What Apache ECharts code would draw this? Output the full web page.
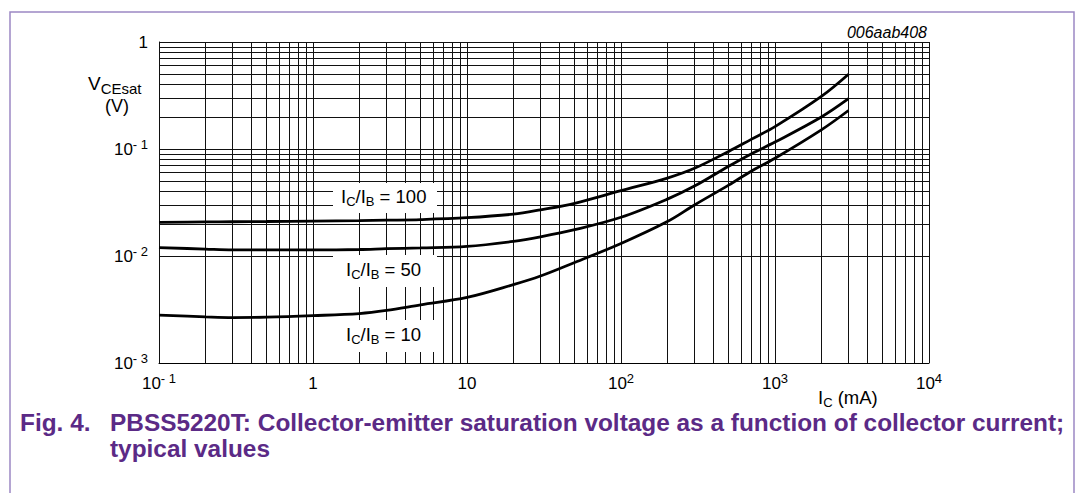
<!DOCTYPE html>
<html>
<head>
<meta charset="utf-8">
<title>PBSS5220T VCEsat vs IC</title>
<script src="https://cdn.jsdelivr.net/npm/echarts@6/dist/echarts.min.js"></script>
<style>
  html, body { margin: 0; padding: 0; background: #fff; }
  #chart { width: 1079px; height: 493px; }
</style>
</head>
<body>
<div id="chart"></div>
<script>
// collector current I_C (mA), shared by the three curves
var currentMA = [0.1, 0.2, 0.3, 0.5, 1, 2, 3, 5, 10, 20, 30, 50, 100, 200, 300, 500, 700, 1000, 2000, 3000]
// V_CEsat (V) for each I_C/I_B ratio
var vsat100 = [0.0206, 0.0208, 0.0209, 0.0210, 0.0212, 0.0214, 0.0216, 0.0219, 0.0228, 0.0246, 0.0270, 0.0311, 0.0408, 0.0535, 0.0660, 0.095, 0.123, 0.162, 0.31, 0.50]
var vsat50 = [0.0120, 0.0116, 0.0114, 0.0114, 0.0114, 0.0115, 0.0117, 0.0119, 0.0123, 0.0137, 0.0151, 0.0176, 0.0230, 0.0340, 0.0450, 0.069, 0.090, 0.116, 0.199, 0.295]
var vsat10 = [0.0028, 0.0027, 0.00266, 0.00268, 0.00277, 0.0029, 0.0031, 0.0035, 0.0041, 0.0054, 0.0065, 0.0087, 0.0131, 0.021, 0.030, 0.046, 0.062, 0.082, 0.151, 0.229]
var ratioLabels = ['100', '50', '10']
// log paper limits
var xMin = 0.1
var xMax = 10000
var yMin = 0.001
var yMax = 1

var FONT = '"Liberation Sans", Arial, sans-serif'
var BLACK = '#000'
var PURPLE = '#5b2a86'

function pairs (ys) {
  return currentMA.map(function (x, i) { return [x, ys[i]] })
}

// 1..9 x 10^n lines for log paper
function logLines (lo, hi) {
  var out = []
  for (var e = Math.round(Math.log10(lo)); e < Math.round(Math.log10(hi)); e++) {
    for (var k = 1; k <= 9; k++) out.push(+(k * Math.pow(10, e)).toPrecision(6))
  }
  out.push(hi)
  return out
}

function powLabel (value) {
  var e = Math.round(Math.log10(value))
  if (e === 0) return '{b|1}'
  if (e === 1) return '{b|10}'
  return '{b|10}{s|' + (e < 0 ? '- ' + (-e) : e) + '}'
}

var tickRich = {
  b: { fontFamily: FONT, fontSize: 17, color: BLACK, lineHeight: 22 },
  s: { fontFamily: FONT, fontSize: 13, color: BLACK, verticalAlign: 'top', lineHeight: 14 }
}

// text with a subscript part, e.g. I_C
function subText (parts, size, subSize) {
  return {
    text: parts,
    textVerticalAlign: 'middle',
    rich: {
      m: { fontFamily: FONT, fontSize: size, fill: BLACK, lineHeight: size + 2 },
      u: { fontFamily: FONT, fontSize: subSize, fill: BLACK, verticalAlign: 'bottom', lineHeight: subSize + 1, padding: [0, 0, -2, 0] }
    }
  }
}

var gridLines = []
logLines(xMin, xMax).forEach(function (v) { gridLines.push({ xAxis: v }) })
logLines(yMin, yMax).forEach(function (v) { gridLines.push({ yAxis: v }) })

function curve (name, ys) {
  return {
    name: name,
    type: 'line',
    data: pairs(ys),
    smooth: 0.35,
    showSymbol: false,
    z: 5,
    lineStyle: { color: BLACK, width: 2.8 }
  }
}

function ratioTag (label, x, y, h, tx, ty) {
  return {
    type: 'group',
    z: 100,
    children: [
      { type: 'rect', shape: { x: x, y: y, width: 104, height: h }, style: { fill: '#fff' }, z: 100 },
      {
        type: 'text', x: tx, y: ty, z: 101,
        style: subText('{m|I}{u|C}{m|/I}{u|B}{m| = ' + label + '}', 18.5, 13)
      }
    ]
  }
}

var chart = echarts.init(document.getElementById('chart'), null, { renderer: 'svg' })

chart.setOption({
  backgroundColor: '#fff',
  animation: false,
  grid: { left: 159, right: 150, top: 42, bottom: 130 },
  xAxis: {
    type: 'log',
    logBase: 10,
    min: xMin,
    max: xMax,
    axisLine: { show: true, lineStyle: { color: BLACK, width: 1 } },
    axisTick: { show: false },
    splitLine: { show: false },
    axisLabel: { margin: 9, formatter: powLabel, rich: tickRich }
  },
  yAxis: {
    type: 'log',
    logBase: 10,
    min: yMin,
    max: yMax,
    axisLine: { show: true, lineStyle: { color: BLACK, width: 1 } },
    axisTick: { show: false },
    splitLine: { show: false },
    axisLabel: { margin: 11, formatter: powLabel, rich: tickRich }
  },
  series: [
    {
      name: 'grid',
      type: 'line',
      data: [],
      z: 1,
      silent: true,
      markLine: {
        silent: true,
        symbol: ['none', 'none'],
        label: { show: false },
        emphasis: { disabled: true },
        lineStyle: { color: '#111', width: 1, type: 'solid' },
        data: gridLines
      }
    },
    curve(ratioLabels[0], vsat100),
    curve(ratioLabels[1], vsat50),
    curve(ratioLabels[2], vsat10)
  ],
  graphic: [
    {
      type: 'rect', z: 0, silent: true,
      shape: { x: 10, y: 12, width: 1064, height: 500 },
      style: { fill: 'none', stroke: '#9c88c4', lineWidth: 1.5 }
    },
    ratioTag(ratioLabels[0], 333, 183, 30, 341, 196),
    ratioTag(ratioLabels[1], 333, 255, 32, 346, 269),
    ratioTag(ratioLabels[2], 333, 320, 32, 346, 334),
    {
      type: 'text', x: 927, y: 32, z: 100,
      style: { text: '006aab408', textAlign: 'right', textVerticalAlign: 'middle', font: 'italic 16px ' + FONT, fill: BLACK }
    },
    { type: 'text', x: 88, y: 83, z: 100, style: subText('{m|V}{u|CEsat}', 19, 15) },
    {
      type: 'text', x: 117, y: 106, z: 100,
      style: { text: '(V)', textAlign: 'center', textVerticalAlign: 'middle', font: '18px ' + FONT, fill: BLACK }
    },
    { type: 'text', x: 818, y: 397, z: 100, style: subText('{m|I}{u|C}{m| (mA)}', 18.5, 13) },
    {
      type: 'text', x: 20, y: 422, z: 100,
      style: { text: 'Fig. 4.', textVerticalAlign: 'middle', font: 'bold 24.4px ' + FONT, fill: PURPLE }
    },
    {
      type: 'text', x: 110, y: 422, z: 100,
      style: { text: 'PBSS5220T: Collector-emitter saturation voltage as a function of collector current;', textVerticalAlign: 'middle', font: 'bold 24.4px ' + FONT, fill: PURPLE }
    },
    {
      type: 'text', x: 110, y: 448, z: 100,
      style: { text: 'typical values', textVerticalAlign: 'middle', font: 'bold 24.4px ' + FONT, fill: PURPLE }
    }
  ]
})
</script>
</body>
</html>
